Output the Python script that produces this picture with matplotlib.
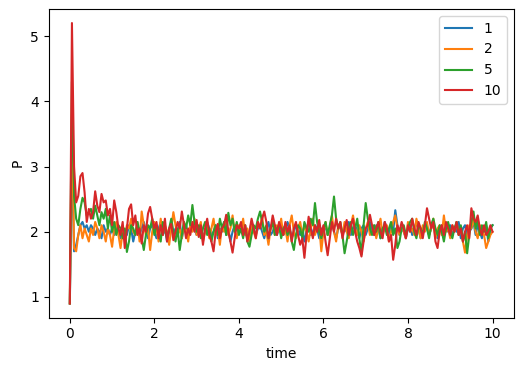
import numpy as np
import matplotlib
matplotlib.use("Agg")
import matplotlib.pyplot as plt

t_step = 0.05
labels = ["1", "2", "5", "10"]

p_1 = [0.90, 3.20, 1.70, 1.80, 1.95, 2.10, 2.15, 2.05, 2.10, 2.00, 2.10, 2.05, 1.95, 2.05, 2.00, 1.90, 2.10, 2.00, 2.05, 1.95,
       2.05, 1.95, 2.10, 2.00, 1.90, 2.05, 2.00, 1.95, 2.10, 2.05, 1.85, 2.00, 2.10, 1.95, 2.05, 2.15, 2.00, 1.90, 2.05, 2.10,
       2.00, 1.90, 2.05, 2.15, 1.95, 2.05, 1.85, 2.00, 2.10, 1.95, 2.05, 2.00, 2.15, 1.90, 2.05, 2.10, 1.95, 2.00, 2.10, 2.05,
       1.95, 2.05, 2.10, 1.90, 2.00, 2.15, 2.05, 1.95, 2.00, 2.10, 1.90, 2.05, 2.00, 2.15, 1.95, 2.05, 1.85, 2.00, 2.10, 2.05,
       2.00, 2.10, 1.95, 2.05, 1.90, 2.00, 2.15, 2.05, 1.95, 2.05, 2.10, 2.00, 1.90, 2.05, 2.15, 1.95, 2.00, 2.10, 1.95, 2.05,
       2.10, 1.95, 2.00, 2.15, 2.05, 1.90, 2.00, 2.10, 2.05, 1.95, 2.00, 1.85, 2.05, 2.15, 1.95, 2.00, 2.10, 2.05, 1.90, 2.05,
       2.00, 2.10, 1.95, 2.05, 2.15, 2.00, 1.90, 2.05, 2.10, 1.95, 2.05, 2.00, 2.15, 1.95, 2.05, 2.10, 2.00, 1.90, 2.05, 2.10,
       1.95, 2.05, 2.15, 2.00, 1.95, 2.10, 2.05, 1.90, 2.00, 2.15, 2.05, 1.95, 2.10, 2.00, 2.33, 2.10, 1.95, 2.05, 2.00, 1.90,
       2.05, 2.10, 1.95, 2.00, 2.15, 2.05, 1.90, 2.00, 2.10, 2.05, 1.95, 2.05, 2.15, 2.00, 1.90, 2.05, 2.10, 1.95, 2.05, 2.00,
       2.10, 1.95, 2.05, 2.00, 2.15, 1.90, 2.05, 2.10, 1.95, 2.00, 2.05, 2.15, 1.95, 2.10, 2.00, 1.90, 2.05, 2.10, 1.85, 2.05,
       2.10]

p_2 = [0.90, 3.80, 1.75, 1.70, 1.95, 2.10, 1.90, 2.05, 1.95, 1.85, 2.05, 1.95, 2.15, 2.05, 1.90, 2.10, 2.00, 1.85, 2.05, 1.95,
       1.77, 2.05, 2.15, 1.95, 1.75, 2.00, 1.90, 2.10, 2.05, 2.20, 2.00, 1.95, 2.15, 1.85, 2.31, 2.10, 1.95, 2.05, 1.72, 2.00,
       2.15, 2.05, 1.85, 2.20, 1.95, 2.10, 2.00, 1.80, 2.05, 2.30, 2.10, 1.95, 2.05, 1.90, 2.15, 2.05, 1.85, 2.10, 2.00, 2.20,
       1.95, 2.05, 2.15, 1.85, 2.00, 2.10, 1.90, 2.05, 2.20, 1.95, 2.05, 1.80, 2.10, 2.00, 2.15, 1.95, 2.05, 2.25, 2.00, 1.90,
       2.10, 2.00, 2.20, 1.95, 2.05, 1.85, 2.10, 2.00, 1.90, 2.15, 2.05, 2.25, 1.95, 2.00, 1.80, 2.05, 2.15, 1.95, 2.10, 2.00,
       2.20, 1.95, 2.05, 1.85, 2.10, 2.25, 2.00, 1.90, 2.05, 2.15, 1.95, 2.10, 2.00, 1.85, 2.05, 2.20, 1.95, 2.05, 2.10, 1.70,
       2.00, 2.15, 1.95, 2.05, 2.25, 2.00, 1.85, 2.10, 2.05, 1.95, 2.15, 2.00, 1.90, 2.10, 2.25, 2.05, 1.95, 2.10, 2.00, 1.85,
       2.05, 2.15, 1.95, 2.00, 2.10, 1.90, 2.05, 2.20, 1.95, 2.05, 2.10, 1.85, 2.00, 2.15, 2.25, 2.05, 1.95, 2.10, 2.00, 1.90,
       2.15, 2.00, 2.05, 1.95, 2.20, 2.05, 1.90, 2.10, 2.00, 2.15, 1.95, 2.05, 2.20, 1.90, 2.05, 2.10, 1.95, 2.25, 2.00, 2.05,
       1.90, 2.10, 2.00, 2.15, 1.95, 2.05, 1.85, 1.68, 1.95, 2.10, 2.05, 2.20, 2.00, 1.90, 2.10, 2.05, 1.95, 1.75, 1.85, 1.95,
       2.00]

p_5 = [0.90, 4.30, 2.55, 2.20, 2.10, 2.35, 2.52, 2.45, 2.25, 2.30, 2.35, 2.20, 2.40, 2.25, 2.10, 2.30, 2.20, 2.35, 2.05, 2.25,
       2.00, 2.15, 1.95, 2.10, 2.05, 1.90, 2.05, 1.69, 1.85, 2.10, 2.05, 1.95, 2.15, 2.00, 1.90, 1.72, 1.95, 2.10, 2.05, 2.20,
       1.95, 2.10, 2.00, 1.85, 2.15, 2.05, 1.90, 2.05, 2.20, 2.00, 1.85, 2.05, 1.72, 1.95, 2.15, 2.05, 2.25, 2.10, 2.41, 2.15,
       2.00, 2.10, 1.90, 2.05, 2.15, 1.95, 2.05, 1.85, 2.00, 2.10, 1.95, 2.20, 2.05, 2.15, 1.95, 2.29, 2.10, 2.20, 2.00, 2.15,
       1.95, 2.05, 1.90, 2.10, 1.85, 1.77, 1.95, 2.10, 2.05, 2.20, 2.31, 2.15, 2.00, 2.10, 1.90, 2.05, 2.15, 1.95, 2.05, 2.10,
       1.90, 2.05, 2.10, 1.95, 2.05, 1.85, 1.72, 1.95, 2.10, 2.05, 1.90, 2.15, 2.05, 2.00, 2.20, 2.10, 2.44, 2.15, 2.00, 1.90,
       2.05, 2.15, 1.95, 2.10, 2.25, 2.54, 2.20, 2.05, 2.15, 1.95, 1.67, 1.85, 2.05, 2.15, 1.95, 2.05, 2.20, 1.90, 1.65, 2.10,
       2.44, 2.20, 2.05, 1.95, 2.10, 2.00, 2.15, 1.90, 2.05, 2.10, 1.95, 2.05, 2.15, 1.95, 2.05, 1.75, 1.85, 2.05, 2.10, 1.95,
       2.05, 2.15, 2.20, 2.00, 1.90, 2.10, 2.05, 1.95, 2.15, 2.05, 1.90, 2.10, 2.20, 2.05, 1.95, 2.10, 2.00, 1.85, 2.05, 2.15,
       2.00, 1.90, 2.05, 2.15, 1.95, 2.10, 1.85, 2.00, 1.67, 1.95, 2.15, 2.31, 2.05, 2.20, 1.95, 2.10, 2.00, 2.15, 1.90, 2.05,
       2.10]

p_10 = [0.90, 5.20, 3.00, 2.45, 2.55, 2.85, 2.90, 2.60, 2.15, 2.35, 2.20, 2.30, 2.62, 2.40, 2.30, 2.58, 2.45, 2.48, 2.25, 2.35,
        2.10, 2.48, 2.30, 2.05, 1.95, 2.15, 1.75, 2.05, 2.35, 2.42, 2.10, 2.25, 1.95, 2.05, 1.82, 2.10, 2.00, 2.28, 2.38, 2.20,
        2.05, 2.15, 1.90, 2.10, 1.95, 2.20, 1.85, 2.05, 2.12, 1.87, 2.00, 2.15, 2.05, 2.31, 2.10, 1.90, 2.05, 1.95, 2.15, 2.00,
        2.18, 1.92, 2.10, 1.80, 2.05, 2.20, 1.95, 1.85, 1.70, 2.00, 2.12, 1.90, 2.05, 2.10, 2.26, 2.00, 1.85, 1.68, 1.90, 2.10,
        2.05, 2.15, 1.95, 2.10, 1.85, 2.00, 2.20, 2.05, 1.90, 2.15, 2.05, 2.20, 2.31, 2.15, 1.90, 2.05, 2.25, 2.10, 1.95, 2.15,
        2.05, 1.95, 2.15, 2.00, 2.10, 1.85, 2.05, 2.15, 1.95, 1.80, 1.90, 1.60, 1.95, 2.23, 2.05, 1.90, 2.10, 2.00, 2.18, 1.95,
        2.10, 1.85, 1.64, 1.90, 2.15, 2.00, 2.20, 2.05, 2.15, 1.90, 2.05, 2.18, 1.95, 2.10, 2.20, 2.00, 1.85, 1.75, 1.62, 1.85,
        2.05, 2.10, 2.26, 2.10, 1.95, 2.05, 2.15, 2.00, 1.90, 2.15, 2.05, 1.85, 1.95, 1.57, 1.80, 2.10, 2.00, 2.15, 2.05, 1.90,
        2.10, 2.00, 2.20, 2.05, 1.95, 2.15, 2.05, 1.90, 2.10, 2.36, 2.20, 2.05, 2.15, 1.85, 1.75, 2.00, 2.10, 1.95, 2.15, 2.05,
        1.95, 2.10, 2.00, 2.15, 1.95, 2.05, 1.85, 2.00, 2.10, 1.90, 2.36, 2.20, 2.15, 2.25, 2.05, 1.95, 2.10, 1.95, 2.00, 2.10,
        2.00]

series = [p_1, p_2, p_5, p_10]
time = np.arange(len(p_1)) * t_step

fig = plt.figure(figsize=(5.23, 3.71), dpi=100)
ax = fig.add_axes([0.0931, 0.1442, 0.889, 0.8315])
for lab, vals in zip(labels, series):
    ax.plot(time, vals, label=lab)
ax.set_xlabel("time")
ax.set_ylabel("P")
ax.legend(loc="upper right")
fig.savefig("out.png", dpi=100)
